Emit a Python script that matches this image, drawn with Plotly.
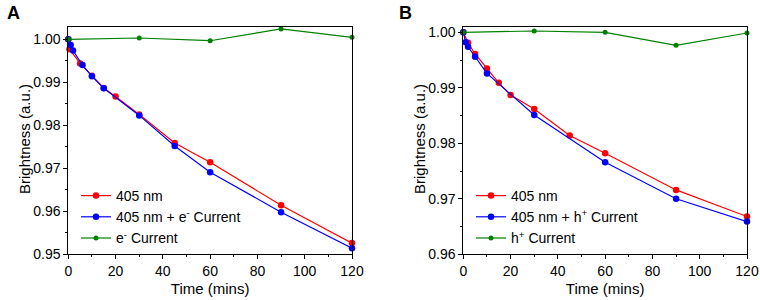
import plotly.graph_objects as go

# ---------------- data ----------------
# Panel A
a_red_t = [0, 0.5, 5, 10, 15, 20, 30, 45, 60, 90, 120]
a_red_v = [1.0, 0.9977, 0.9944, 0.9915, 0.9887, 0.9867, 0.9825, 0.9759, 0.9714, 0.9614, 0.9526]
a_blue_t = [0, 1, 2, 6, 10, 15, 30, 45, 60, 90, 120]
a_blue_v = [1.0, 0.9987, 0.9974, 0.9940, 0.9914, 0.9886, 0.9823, 0.9752, 0.9691, 0.9598, 0.9514]
a_green_t = [0, 30, 60, 90, 120]
a_green_v = [1.0, 1.0003, 0.99967, 1.0024, 1.00047]

# Panel B
b_red_t = [0, 2, 5, 10, 15, 20, 30, 45, 60, 90, 120]
b_red_v = [1.0, 0.9981, 0.9961, 0.9935, 0.9909, 0.9887, 0.9862, 0.9814, 0.9782, 0.9716, 0.9668]
b_blue_t = [0, 1, 2, 5, 10, 30, 60, 90, 120]
b_blue_v = [1.0, 0.9982, 0.9974, 0.9956, 0.9926, 0.9851, 0.9766, 0.9700, 0.9659]
b_green_t = [0, 30, 60, 90, 120]
b_green_v = [1.0, 1.00024, 1.0, 0.99766, 0.99988]

names_a = ["405 nm", "405 nm + e<sup>-</sup> Current", "e<sup>-</sup> Current"]
names_b = ["405 nm", "405 nm + h<sup>+</sup> Current", "h<sup>+</sup> Current"]

x_title = "Time (mins)"
y_title = "Brightness (a.u.)"
panel_labels = ["A", "B"]

# ---------------- styling ----------------
FONT = "Arial, Liberation Sans, sans-serif"
RED, BLUE, GREEN = "#FF0000", "#0000FF", "#008000"
W, H = 760, 300


def px(x):
    return x / W


def py(y):
    return 1 - y / H


fig = go.Figure()


def add_series(t, v, name, color, size, xa, ya, legend):
    fig.add_trace(go.Scatter(
        x=t, y=v, name=name, mode="lines+markers",
        line=dict(color=color, width=1.2),
        marker=dict(color=color, size=size),
        xaxis=xa, yaxis=ya, legend=legend, cliponaxis=False))


add_series(a_red_t, a_red_v, names_a[0], RED, 6.5, "x", "y", "legend")
add_series(a_blue_t, a_blue_v, names_a[1], BLUE, 6.5, "x", "y", "legend")
add_series(a_green_t, a_green_v, names_a[2], GREEN, 5, "x", "y", "legend")
add_series(b_red_t, b_red_v, names_b[0], RED, 6.5, "x2", "y2", "legend2")
add_series(b_blue_t, b_blue_v, names_b[1], BLUE, 6.5, "x2", "y2", "legend2")
add_series(b_green_t, b_green_v, names_b[2], GREEN, 5, "x2", "y2", "legend2")

# domains (pixel-derived from the reference)
xa_dom = [px(68.3), px(352)]
xb_dom = [px(463.3), px(747)]
y_dom = [py(254.3), py(27)]

xrange = [0, 120]
ya_range = [0.95, 1.00286]
yb_range = [0.96, 1.00096]

tickfont = dict(family=FONT, size=14, color="black")
titlefont = dict(family=FONT, size=15, color="black")


def base_x(domain, anchor):
    return dict(domain=domain, anchor=anchor, range=xrange, dtick=20, tick0=0,
                ticks="outside", ticklen=4, tickwidth=1, tickcolor="black",
                minor=dict(ticks="outside", ticklen=2, dtick=10, tickcolor="black"),
                showline=True, linecolor="black", linewidth=1, mirror=True,
                showgrid=False, zeroline=False, tickfont=tickfont, automargin=False,
                title=dict(text=x_title, font=titlefont, standoff=5))


def base_y(domain, anchor, rng, tickvals):
    return dict(domain=domain, anchor=anchor, range=rng, tickvals=tickvals, tickformat=".2f",
                ticks="outside", ticklen=4, tickwidth=1, tickcolor="black",
                minor=dict(ticks="outside", ticklen=2, dtick=0.005, tick0=0.95, tickcolor="black"),
                showline=True, linecolor="black", linewidth=1, mirror=True,
                showgrid=False, zeroline=False, tickfont=tickfont, automargin=False)


def top_x(over, anchor):
    return dict(overlaying=over, anchor=anchor, side="top", range=xrange, dtick=20, tick0=0,
                ticks="inside", ticklen=4, tickcolor="black", automargin=False,
                minor=dict(ticks="inside", ticklen=2, dtick=10, tickcolor="black"),
                showticklabels=False, showgrid=False, zeroline=False, showline=False)


def right_y(over, anchor, rng, tickvals):
    return dict(overlaying=over, anchor=anchor, side="right", range=rng, tickvals=tickvals,
                ticks="inside", ticklen=4, tickcolor="black", automargin=False,
                minor=dict(ticks="inside", ticklen=2, dtick=0.005, tick0=0.95, tickcolor="black"),
                showticklabels=False, showgrid=False, zeroline=False, showline=False)


ya_ticks = [0.95, 0.96, 0.97, 0.98, 0.99, 1.00]
yb_ticks = [0.96, 0.97, 0.98, 0.99, 1.00]

legend_common = dict(font=dict(family=FONT, size=14, color="black"), bgcolor="rgba(0,0,0,0)",
                     borderwidth=0, xanchor="left", yanchor="top", tracegroupgap=0,
                     itemwidth=30)

fig.update_layout(
    width=W, height=H, margin=dict(l=0, r=0, t=0, b=0, autoexpand=False),
    paper_bgcolor="white", plot_bgcolor="white",
    font=dict(family=FONT, size=14, color="black"),
    xaxis=base_x(xa_dom, "y"),
    yaxis=base_y(y_dom, "x", ya_range, ya_ticks),
    xaxis2=base_x(xb_dom, "y2"),
    yaxis2=base_y(y_dom, "x2", yb_range, yb_ticks),
    xaxis3=top_x("x", "y"),
    yaxis3=right_y("y", "x", ya_range, ya_ticks),
    xaxis4=top_x("x2", "y2"),
    yaxis4=right_y("y2", "x2", yb_range, yb_ticks),
    legend=dict(x=px(76), y=py(180), **legend_common),
    legend2=dict(x=px(471), y=py(180), **legend_common),
    showlegend=True,
)

# y axis titles (rotated), placed as in the reference
for xp in [24, 419]:
    fig.add_annotation(text=y_title, x=px(xp), y=py(139), xref="paper", yref="paper",
                       textangle=-90, showarrow=False, font=titlefont,
                       xanchor="center", yanchor="middle")

# panel labels
for lbl, xp in zip(panel_labels, [14, 405]):
    fig.add_annotation(text=f"<b>{lbl}</b>", x=px(xp), y=py(13), xref="paper", yref="paper",
                       showarrow=False, font=dict(family=FONT, size=18, color="black"),
                       xanchor="center", yanchor="middle")

# remove the default page margin so the 760x300 figure fills the window exactly
fig.write_html("out.html",
               config={"displayModeBar": False},
               post_script="document.body.style.margin='0';document.body.style.overflow='hidden';")
